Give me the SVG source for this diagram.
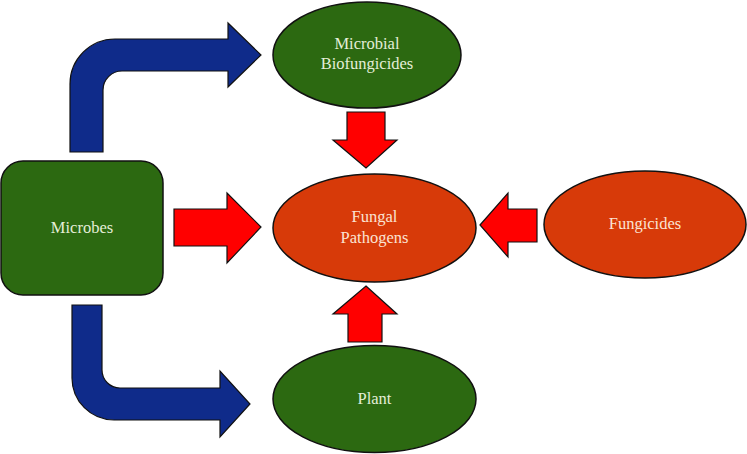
<svg xmlns="http://www.w3.org/2000/svg" width="747" height="454" viewBox="0 0 747 454">
<style>
.blue{fill:#0f2b8a;stroke:#111;stroke-width:1.2}
.red{fill:#ff0000;stroke:#111;stroke-width:1.2}
.green{fill:#2c6911;stroke:#111;stroke-width:1.5}
.orange{fill:#d73a09;stroke:#111;stroke-width:1.5}
.tg{font-family:"Liberation Serif","DejaVu Serif",serif;font-size:16.5px;fill:#e4eed8;text-anchor:middle}
.to{font-family:"Liberation Serif","DejaVu Serif",serif;font-size:16.5px;fill:#fbe3d3;text-anchor:middle}
</style>
<rect width="747" height="454" fill="#fff"/>
<g id="connectors">
<path class="blue" d="M70,152 L70,84 A45,45 0 0 1 115,39 L228,39 L228,23 L261,55 L228,87 L228,71 L122,71 A19,19 0 0 0 103,90 L103,152 Z"/>
<path class="blue" d="M72,305 L72,378 A42,42 0 0 0 114,420 L220,420 L220,437 L250,404 L220,371 L220,388 L120,388 A18,18 0 0 1 102,370 L102,305 Z"/>
<path class="red" d="M174,209 L227,209 L227,193 L261,227 L227,263 L227,246 L174,246 Z"/>
<path class="red" d="M347,112 L385,112 L385,140 L397,140 L366,168 L333,140 L347,140 Z"/>
<path class="red" d="M366,286 L397,314 L382,314 L382,342 L348,342 L348,314 L333,314 Z"/>
<path class="red" d="M480,225 L508,193 L508,209 L537,209 L537,242 L508,242 L508,257 Z"/>
</g>
<g id="microbes">
<rect class="green" x="1" y="161" width="162" height="134" rx="22" ry="22"/>
<text class="tg" x="82" y="233">Microbes</text>
</g>
<g id="biofungicides">
<ellipse class="green" cx="367" cy="55" rx="94" ry="53"/>
<text class="tg" x="367" y="49">Microbial</text>
<text class="tg" x="367" y="69">Biofungicides</text>
</g>
<g id="pathogens">
<ellipse class="orange" cx="374.5" cy="228" rx="101.5" ry="54"/>
<text class="to" x="374.5" y="222">Fungal</text>
<text class="to" x="374.5" y="243">Pathogens</text>
</g>
<g id="fungicides">
<ellipse class="orange" cx="645" cy="224.5" rx="101" ry="53.5"/>
<text class="to" x="645" y="229">Fungicides</text>
</g>
<g id="plant">
<ellipse class="green" cx="374.5" cy="399" rx="101.5" ry="53.5"/>
<text class="tg" x="374.5" y="404">Plant</text>
</g>
</svg>
